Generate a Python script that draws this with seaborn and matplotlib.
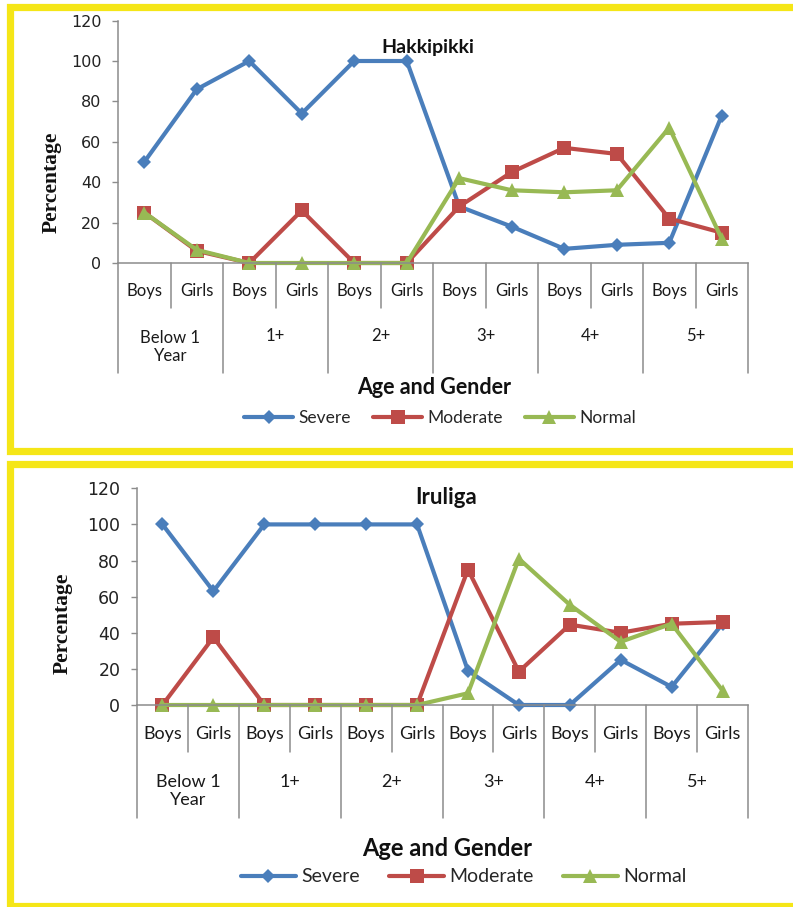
import numpy as np
import pandas as pd
import matplotlib
matplotlib.use("Agg")
import matplotlib.pyplot as plt
import matplotlib.transforms as mtransforms
from matplotlib.lines import Line2D
import seaborn as sns

# ---- data -------------------------------------------------------------
age_groups = ["Below 1\nYear", "1+", "2+", "3+", "4+", "5+"]
genders = ["Boys", "Girls"]
status_names = ["Severe", "Moderate", "Normal"]

hakki_severe = [50, 86, 100, 74, 100, 100, 28, 18, 7, 9, 10, 73]
hakki_moderate = [25, 6, 0, 26, 0, 0, 28, 45, 57, 54, 22, 15]
hakki_normal = [25, 6.5, 0, 0, 0, 0, 42, 36, 35, 36, 67, 12]

iruliga_severe = [100, 63, 100, 100, 100, 100, 19, 0, 0, 25, 10, 45]
iruliga_moderate = [0, 37.5, 0, 0, 0, 0, 75, 18.5, 44.5, 40, 45, 46]
iruliga_normal = [0, 0, 0, 0, 0, 0, 6.5, 81, 55.5, 35, 45, 8]

y_ticks = [0, 20, 40, 60, 80, 100, 120]

# ---- style ------------------------------------------------------------
sns.set_style("white")
plt.rcParams["font.family"] = ["Lato", "DejaVu Sans"]

W, H = 793, 907
fig = plt.figure(figsize=(W / 100, H / 100), dpi=100)

COLORS = {"Severe": "#4A7EBB", "Moderate": "#BE4B48", "Normal": "#98B954"}
MARKERS = {"Severe": "D", "Moderate": "s", "Normal": "^"}
MSIZE = {"Severe": 7.2, "Moderate": 9.6, "Normal": 10.2}
LW = 3.0
AXIS_GREY = "#8C8C8C"
YELLOW = "#F5E617"


def fx(px):
    return px / W


def fy(py):
    return 1 - py / H


def draw_panel(title, severe, moderate, normal, box, rows, fonts):
    x0, ytop, x1, ybot = box
    ax = fig.add_axes([fx(x0), fy(ybot), fx(x1 - x0), (ybot - ytop) / H])
    slots = np.arange(len(age_groups) * len(genders))
    df = pd.DataFrame({
        "slot": np.tile(slots, 3),
        "value": severe + moderate + normal,
        "status": np.repeat(status_names, len(slots)),
    })
    for name in status_names:
        sub = df[df["status"] == name]
        sns.lineplot(data=sub, x="slot", y="value", color=COLORS[name],
                     marker=MARKERS[name], markersize=MSIZE[name],
                     markeredgewidth=0, linewidth=LW, ax=ax,
                     label=name, legend=False, clip_on=False)
    ax.set_xlim(-0.5, len(slots) - 0.5)
    ax.set_ylim(0, 120)
    ax.set_yticks(y_ticks)
    ax.set_yticklabels([str(v) for v in y_ticks], family="DejaVu Sans",
                       fontsize=fonts["ytick"], color="#222222")
    ax.tick_params(axis="y", direction="out", length=4, width=1,
                   color=AXIS_GREY, pad=8, left=True)
    ax.set_xticks([])
    ax.set_xlabel("")
    ax.set_ylabel("")
    for side in ("top", "right"):
        ax.spines[side].set_visible(False)
    for side in ("left", "bottom"):
        ax.spines[side].set_color(AXIS_GREY)
        ax.spines[side].set_linewidth(1.1)
    ax.set_facecolor("none")

    # two-level category axis below the plot
    blend = mtransforms.blended_transform_factory(ax.transData, fig.transFigure)
    y_short, y_long = rows["short"], rows["long"]
    for i in range(len(slots) + 1):
        xpos = i - 0.5
        end = y_long if i % 2 == 0 else y_short
        ax.plot([xpos, xpos], [fy(ybot), fy(end)], transform=blend,
                color=AXIS_GREY, lw=1.1, clip_on=False)
    for i in slots:
        ax.text(i, fy(rows["gender"]), genders[i % 2], transform=blend,
                ha="center", va="center", fontsize=fonts["cat"],
                color="#1a1a1a")
    for g, label in enumerate(age_groups):
        ypos = rows["age_multi"] if "\n" in label else rows["age"]
        ax.text(2 * g + 0.5, fy(ypos), label, transform=blend,
                ha="center", va="center", fontsize=fonts["cat"],
                color="#1a1a1a", linespacing=fonts["spacing"])

    fig.text(fx(rows["title_x"]), fy(rows["title_y"]), title, ha="center",
             va="center", fontsize=fonts["title"], fontweight="bold",
             color="#111111")
    fig.text(fx(rows["ylab_x"]), fy(rows["ylab_y"]), "Percentage",
             rotation=90, ha="center", va="center",
             family="Liberation Serif", fontweight="bold",
             fontsize=fonts["ylab"], color="#111111")
    fig.text(fx(rows["xlab_x"]), fy(rows["xlab_y"]), "Age and Gender",
             ha="center", va="center", fontsize=fonts["xlab"],
             fontweight="bold", color="#111111")

    handles = [Line2D([], [], color=COLORS[n], marker=MARKERS[n],
                      markersize=MSIZE[n], markeredgewidth=0, lw=LW)
               for n in status_names]
    fig.legend(handles, status_names, loc="center",
               bbox_to_anchor=(fx(rows["leg_x"]), fy(rows["leg_y"])),
               ncol=3, frameon=False, fontsize=fonts["legend"],
               handlelength=2.8, columnspacing=fonts["colspace"],
               handletextpad=0.3)
    return ax


draw_panel("Hakkipikki", hakki_severe, hakki_moderate, hakki_normal,
           box=(118, 20.6, 748, 263),
           rows=dict(short=308, long=373, gender=291, age=336,
                     age_multi=347, title_x=428, title_y=47,
                     ylab_x=52, ylab_y=182, xlab_x=434, xlab_y=388,
                     leg_x=440, leg_y=418),
           fonts=dict(ytick=11.5, cat=12, spacing=1.1, title=14, ylab=15.5,
                      xlab=15.5, legend=12.5, colspace=1.3))

draw_panel("Iruliga", iruliga_severe, iruliga_moderate, iruliga_normal,
           box=(137, 488.3, 748, 705),
           rows=dict(short=752, long=818, gender=734, age=782,
                     age_multi=791, title_x=446, title_y=497,
                     ylab_x=63, ylab_y=623, xlab_x=447, xlab_y=848,
                     leg_x=464, leg_y=877),
           fonts=dict(ytick=12.5, cat=13, spacing=1.15, title=16, ylab=15.5,
                      xlab=17, legend=14, colspace=1.5))

# yellow frames around each panel
for top, bottom in ((6.5, 450.5), (464, 906)):
    fig.add_artist(Line2D([fx(800), fx(10), fx(10), fx(800)],
                          [fy(top), fy(top), fy(bottom), fy(bottom)],
                          transform=fig.transFigure, color=YELLOW, lw=5.2,
                          solid_joinstyle="miter"))

fig.savefig("out.png", dpi=100)
